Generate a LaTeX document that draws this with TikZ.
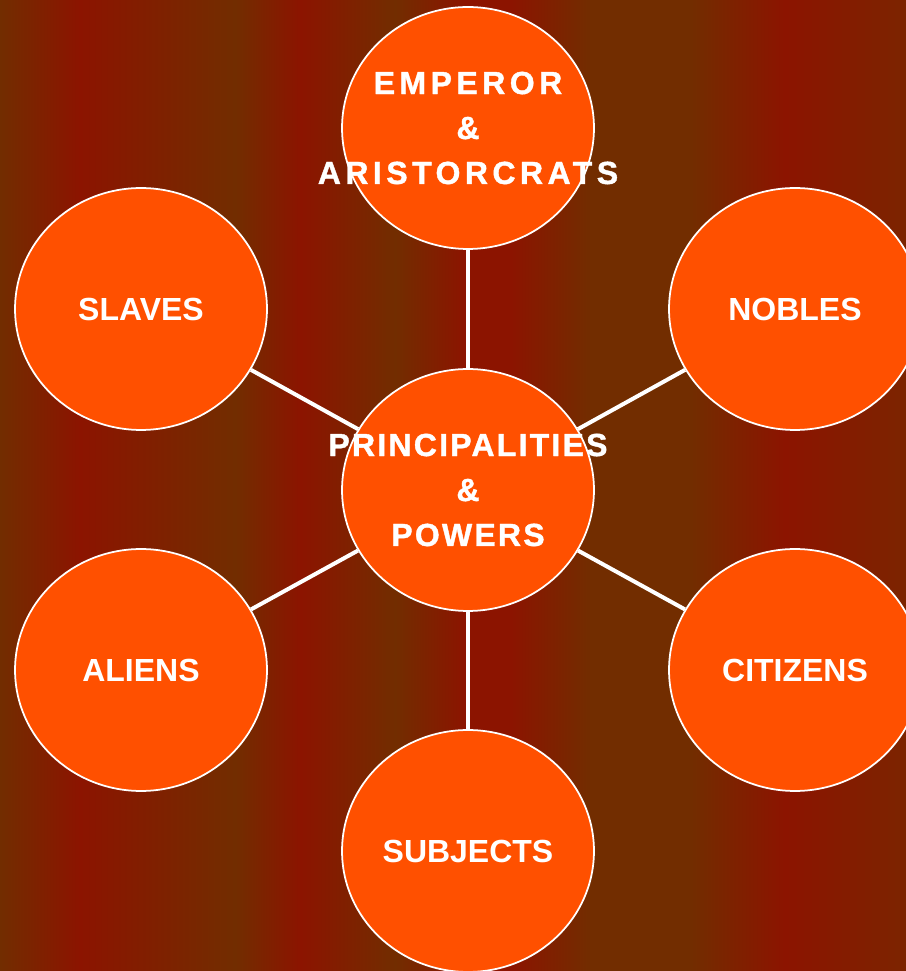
\documentclass[tikz,border=0pt]{standalone}
\usepackage{fontspec}
\setmainfont{Liberation Sans}
\newfontfamily\spacedfont[LetterSpace=14,BoldFeatures={FakeBold=1.2}]{Liberation Sans}
\newfontfamily\tightfont[LetterSpace=7,BoldFeatures={FakeBold=1.2}]{Liberation Sans}
\usetikzlibrary{shapes.geometric}
\usepackage{xcolor}
\definecolor{rustred}{RGB}{140,20,0}
\definecolor{rustbrown}{RGB}{114,45,0}
\definecolor{rustedge}{RGB}{124,36,0}
\definecolor{blaze}{RGB}{255,80,0}
\pgfdeclarehorizontalshading{stripes}{100bp}{%
  color(0bp)=(rustbrown); color(25bp)=(rustbrown);
  color(29.4bp)=(rustred); color(38bp)=(rustbrown);
  color(41.6bp)=(rustred); color(46.8bp)=(rustbrown);
  color(50.7bp)=(rustred); color(53.2bp)=(rustred);
  color(57.6bp)=(rustbrown); color(63.1bp)=(rustbrown);
  color(68.3bp)=(rustred); color(75bp)=(rustedge);
  color(100bp)=(rustedge)}

\begin{document}
\begin{tikzpicture}[x=0.02cm,y=0.02cm,
    circ/.style={ellipse,draw=white,line width=1pt,fill=blaze,
      minimum width=5.04cm,minimum height=4.84cm,inner sep=0pt},
    lbl/.style={text=white,align=center,
      font=\fontsize{18.2}{25.6}\selectfont\bfseries},
    spoke/.style={white,line width=0.08cm}]
  \useasboundingbox (0,0) rectangle (906,971);
  \clip (0,0) rectangle (906,971);
  % striped backdrop
  \shade[shading=stripes] (0,0) rectangle (906,971);
  % hub
  \node[circ,label={[lbl,font=\fontsize{18.2}{25.6}\selectfont\bfseries\tightfont]center:PRINCIPALITIES\\\&\\POWERS}]
    (powers) at (468,481) {};
  % ring of classes
  \node[circ,label={[lbl,font=\fontsize{18.2}{25.6}\selectfont\bfseries\spacedfont]center:EMPEROR\\\&\\ARISTORCRATS}]
    (emperor) at (468,843) {};
  \node[circ,label={[lbl]center:SLAVES}] (slaves) at (141,662) {};
  \node[circ,label={[lbl]center:NOBLES}] (nobles) at (795,662) {};
  \node[circ,label={[lbl]center:ALIENS}] (aliens) at (141,301) {};
  \node[circ,label={[lbl]center:CITIZENS}] (citizens) at (795,301) {};
  \node[circ,label={[lbl]center:SUBJECTS}] (subjects) at (468,120) {};
  % spokes
  \foreach \outer in {emperor,slaves,nobles,aliens,citizens,subjects}
    \draw[spoke] (powers) -- (\outer);
\end{tikzpicture}
\end{document}
